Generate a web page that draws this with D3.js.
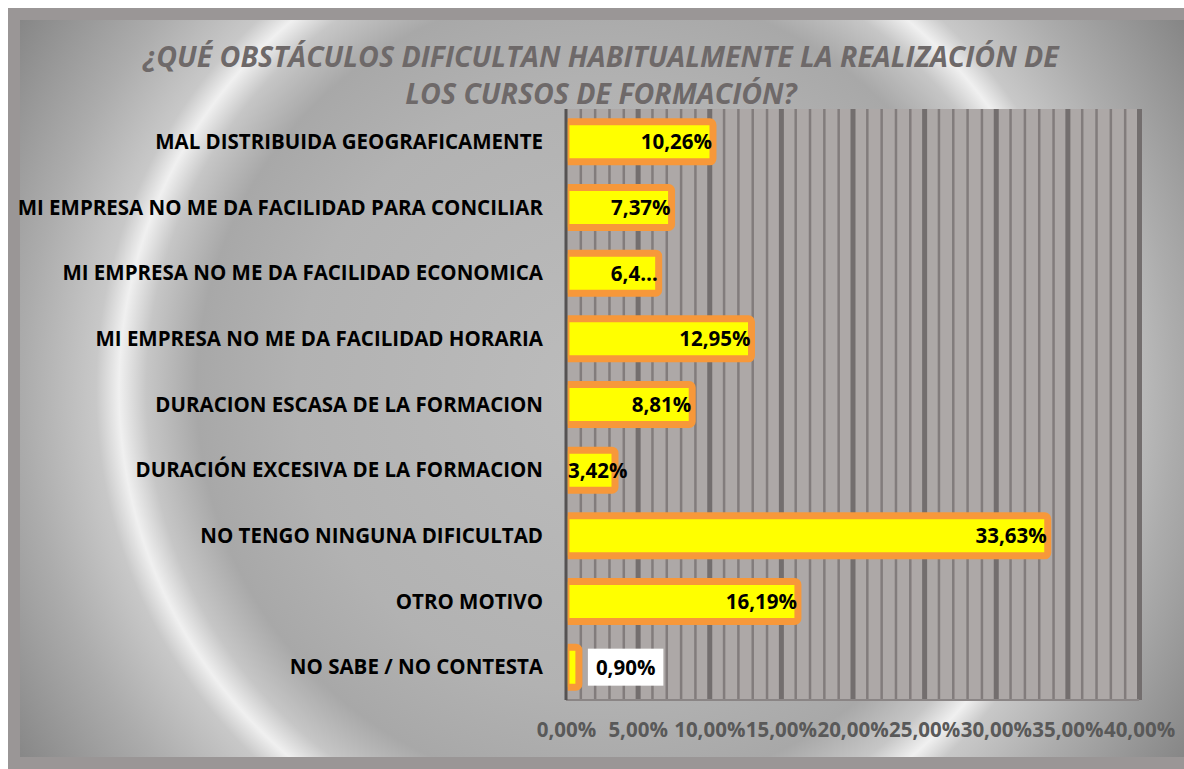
<!DOCTYPE html>
<html>
<head>
<meta charset="utf-8">
<script src="https://cdn.jsdelivr.net/npm/d3@7"></script>
<style>
  html, body { margin: 0; padding: 0; background: #ffffff; }
  svg { display: block; }
</style>
</head>
<body>
<svg id="chart" width="1184" height="769"></svg>
<script>
const titleLines = ["¿QUÉ OBSTÁCULOS DIFICULTAN HABITUALMENTE LA REALIZACIÓN DE", "LOS CURSOS DE FORMACIÓN?"];
const categories = [
  "MAL DISTRIBUIDA GEOGRAFICAMENTE",
  "MI EMPRESA NO ME DA FACILIDAD PARA CONCILIAR",
  "MI EMPRESA NO ME DA FACILIDAD ECONOMICA",
  "MI EMPRESA NO ME DA FACILIDAD HORARIA",
  "DURACION ESCASA DE LA FORMACION",
  "DURACIÓN EXCESIVA DE LA FORMACION",
  "NO TENGO NINGUNA DIFICULTAD",
  "OTRO MOTIVO",
  "NO SABE / NO CONTESTA"
];
const values = [10.26, 7.37, 6.47, 12.95, 8.81, 3.42, 33.63, 16.19, 0.90];
const valueLabels = ["10,26%", "7,37%", "6,4…", "12,95%", "8,81%", "3,42%", "33,63%", "16,19%", "0,90%"];
const majorTicks = [0, 5, 10, 15, 20, 25, 30, 35, 40];
const minorTicks = d3.range(0, 41, 1);

const locale = d3.formatLocale({decimal: ",", thousands: ".", grouping: [3], currency: ["", "€"]});
const fmt = v => locale.format(".2f")(v) + "%";

const svg = d3.select("#chart");
const W = 1184, H = 769;
const plot = {x0: 566, x1: 1139, y0: 109, y1: 700};
const FONT = "'Open Sans', 'Noto Sans', sans-serif";

const defs = svg.append("defs");
const rg = defs.append("radialGradient").attr("id", "bgGrad")
  .attr("gradientUnits", "userSpaceOnUse")
  .attr("cx", 600).attr("cy", 390).attr("r", 720);
[[0, "#bcbcbc"], [0.42, "#b2b2b2"], [0.56, "#a8a8a8"], [0.63, "#c6c6c6"], [0.668, "#f0f0f0"], [0.7, "#c8c8c8"], [0.8, "#acacac"], [1, "#7c7c7c"]]
  .forEach(([o, c]) => rg.append("stop").attr("offset", o).attr("stop-color", c));

defs.append("clipPath").attr("id", "plotClip").append("rect")
  .attr("x", plot.x0 + 1.5).attr("y", plot.y0).attr("width", plot.x1 - plot.x0 + 10).attr("height", plot.y1 - plot.y0);

// Outer frame
svg.append("rect").attr("x", 8).attr("y", 8).attr("width", W + 10).attr("height", H + 10).attr("fill", "#9a9696");
svg.append("rect").attr("x", 20).attr("y", 20).attr("width", W).attr("height", 737).attr("fill", "url(#bgGrad)");

// Title
svg.append("g").selectAll("text").data(titleLines).join("text")
  .attr("x", 601).attr("y", (d, i) => 67 + i * 37)
  .attr("text-anchor", "middle")
  .attr("font-family", FONT).attr("font-size", 28.5).attr("font-weight", 700).attr("font-style", "italic")
  .attr("fill", "#6e6969")
  .text(d => d);

const x = d3.scaleLinear().domain([0, 40]).range([plot.x0, plot.x1]);
const y = d3.scaleBand().domain(categories).range([plot.y0, plot.y1]).paddingInner(0.39).paddingOuter(0.195);

// Plot area background
svg.append("rect").attr("x", plot.x0).attr("y", plot.y0).attr("width", plot.x1 - plot.x0).attr("height", plot.y1 - plot.y0)
  .attr("fill", "#ada8a7");

// Gridlines
const gMinor = svg.append("g").attr("transform", `translate(0,${plot.y1})`)
  .call(d3.axisBottom(x).tickValues(minorTicks.filter(t => t % 5 !== 0)).tickSize(-(plot.y1 - plot.y0)).tickFormat(""));
gMinor.select(".domain").remove();
gMinor.selectAll("line").attr("stroke", "#827c7c").attr("stroke-width", 2.5);
const gMajor = svg.append("g").attr("transform", `translate(0,${plot.y1})`)
  .call(d3.axisBottom(x).tickValues(majorTicks.filter(t => t > 0)).tickSize(-(plot.y1 - plot.y0)).tickFormat(""));
gMajor.select(".domain").remove();
gMajor.selectAll("line").attr("stroke", "#736e6e").attr("stroke-width", 5);
svg.append("line").attr("x1", plot.x0).attr("x2", plot.x1).attr("y1", plot.y1).attr("y2", plot.y1)
  .attr("stroke", "#8a8585").attr("stroke-width", 2);

// Bars
const bh = y.bandwidth();
svg.append("g").attr("clip-path", "url(#plotClip)").selectAll("rect").data(values).join("rect")
  .attr("x", x(0)).attr("y", (d, i) => y(categories[i]))
  .attr("width", d => x(d) - x(0)).attr("height", bh)
  .attr("rx", 3).attr("ry", 3)
  .attr("fill", "#ffff00").attr("stroke", "#f7983a").attr("stroke-width", 7);

// Left axis line
svg.append("line").attr("x1", plot.x0).attr("x2", plot.x0).attr("y1", plot.y0).attr("y2", plot.y1)
  .attr("stroke", "#555252").attr("stroke-width", 3);

// Category labels
const yAxis = svg.append("g").attr("transform", `translate(${plot.x0 - 23},0)`)
  .call(d3.axisLeft(y).tickSize(0).tickPadding(0));
yAxis.select(".domain").remove();
yAxis.selectAll("text")
  .attr("font-family", FONT).attr("font-size", 20.5).attr("font-weight", 700).attr("fill", "#000000")
  .attr("dy", "0.35em");

// Tick labels
const xAxis = svg.append("g").attr("transform", `translate(0,${plot.y1})`)
  .call(d3.axisBottom(x).tickValues(majorTicks).tickSize(0).tickPadding(0).tickFormat(fmt));
xAxis.select(".domain").remove();
xAxis.selectAll("text").attr("y", 37).attr("dy", 0)
  .attr("font-family", FONT).attr("font-size", 20.5).attr("font-weight", 700).attr("fill", "#595959");

// Data labels
const lblG = svg.append("g");
values.forEach((v, i) => {
  const cy = y(categories[i]) + bh / 2;
  const t = lblG.append("text")
    .attr("font-family", FONT).attr("font-size", 20.5).attr("font-weight", 700).attr("fill", "#000000")
    .attr("y", cy).attr("dy", "0.36em")
    .text(valueLabels[i]);
  const tw = t.node().getComputedTextLength();
  const barW = x(v) - x(0);
  if (barW < 20) {
    // outside end with white box
    const lx = x(v) + 17;
    lblG.insert("rect", "text").attr("x", lx - 8).attr("y", cy - 18.5).attr("width", tw + 16).attr("height", 37).attr("fill", "#ffffff");
    t.attr("x", lx).attr("text-anchor", "start");
  } else {
    const right = Math.max(x(v) - 1, x(0) + 2 + tw);
    t.attr("x", right).attr("text-anchor", "end");
  }
});
</script>
</body>
</html>
